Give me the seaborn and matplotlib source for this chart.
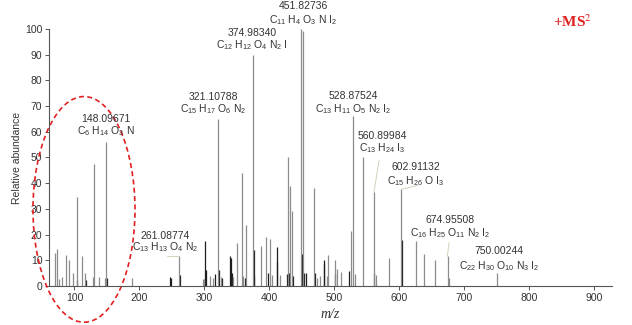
"""MS2 fragment spectrum with annotated peaks."""

import matplotlib.pyplot as plt
import numpy as np
import pandas as pd
import seaborn as sns
from matplotlib.patches import Ellipse

# -- peak list (m/z, relative abundance) ---------------------------------
gray_mz = [70.2, 73.7, 76.8, 80.9, 86.6, 92.2, 97.3, 104.5, 111.7, 116.8,
           128.1, 130.7, 138.4, 146.6, 148.1, 188.1, 261.1, 298.4, 299.5,
           308.5, 313.6, 321.1, 325.0, 344.0, 350.6, 357.3, 360.0, 364.0,
           375.0, 387.5, 394.8, 400.9, 404.0, 416.0, 428.8, 432.5, 435.3,
           448.9, 451.8, 468.3, 474.0, 478.0, 488.0, 490.5, 501.7, 503.5,
           510.0, 525.0, 528.9, 532.0, 544.5, 560.9, 564.0, 584.5, 602.9,
           625.0, 638.4, 655.4, 675.0, 676.5, 750.0]
gray_int = [12.7, 14.4, 2.7, 3.4, 12.0, 10.0, 5.2, 34.8, 11.5, 4.9,
            3.6, 47.4, 3.4, 3.0, 56.0, 3.0, 11.7, 2.7, 2.7,
            3.9, 3.3, 65.0, 3.5, 3.5, 16.8, 44.0, 3.8, 23.9,
            90.0, 15.6, 19.0, 18.2, 4.3, 4.3, 50.0, 39.0, 29.0,
            100.0, 99.0, 38.0, 3.0, 4.0, 4.0, 12.0, 10.0, 6.5,
            5.5, 21.3, 66.0, 4.5, 50.0, 36.4, 4.3, 11.0, 37.6,
            17.4, 12.5, 10.2, 11.5, 3.0, 5.2]

black_mz = [103.5, 117.8, 149.6, 247.0, 248.0, 262.0, 301.5, 303.0, 316.7,
            322.0, 327.5, 339.4, 340.4, 342.5, 362.0, 375.8, 377.0, 398.5,
            411.2, 412.3, 427.5, 430.0, 436.5, 449.8, 453.5, 456.0, 471.0,
            483.5, 484.5, 500.5, 523.0, 561.5, 603.5]
black_int = [2.3, 2.3, 3.0, 3.6, 3.2, 4.3, 17.6, 6.3, 4.7,
             6.3, 3.0, 11.5, 10.8, 5.0, 3.3, 14.0, 4.0, 5.0,
             15.0, 9.5, 4.5, 5.0, 4.0, 12.5, 5.0, 5.0, 5.0,
             10.0, 8.6, 4.6, 6.0, 5.0, 18.0]

# -- annotations: (x, y of mass line, y of formula line, mass, formula) ----
ann_x = [451.6, 373.2, 313.2, 148.6, 528.6, 573.2, 625.5, 677.8, 753.2, 239.3]
ann_mass_y = [109.0, 98.4, 73.7, 65.0, 74.0, 58.5, 46.3, 25.5, 13.5, 19.6]
ann_form_y = [103.5, 93.7, 69.0, 60.4, 69.0, 53.7, 40.9, 20.4, 7.8, 15.0]
ann_mass = ["451.82736", "374.98340", "321.10788", "148.09671", "528.87524",
            "560.89984", "602.91132", "674.95508", "750.00244", "261.08774"]
ann_formula = [
    r"C$_{11}$ H$_{4}$ O$_{3}$ N I$_{2}$",
    r"C$_{12}$ H$_{12}$ O$_{4}$ N$_{2}$ I",
    r"C$_{15}$ H$_{17}$ O$_{6}$ N$_{2}$",
    r"C$_{6}$ H$_{14}$ O$_{3}$ N",
    r"C$_{13}$ H$_{11}$ O$_{5}$ N$_{2}$ I$_{2}$",
    r"C$_{13}$ H$_{24}$ I$_{3}$",
    r"C$_{15}$ H$_{26}$ O I$_{3}$",
    r"C$_{16}$ H$_{25}$ O$_{11}$ N$_{2}$ I$_{2}$",
    r"C$_{22}$ H$_{30}$ O$_{10}$ N$_{3}$ I$_{2}$",
    r"C$_{13}$ H$_{13}$ O$_{4}$ N$_{2}$",
]

# leader lines (label -> peak)
lead_x0 = [569.0, 629.0, 676.7, 242.4]
lead_y0 = [49.0, 39.2, 16.9, 11.8]
lead_x1 = [560.9, 602.9, 673.8, 259.6]
lead_y1 = [36.4, 37.6, 11.5, 11.8]

sns.set_theme(style="ticks")
plt.rcParams["font.family"] = ["Liberation Sans", "DejaVu Sans"]
plt.rcParams["mathtext.fontset"] = "custom"
plt.rcParams["mathtext.rm"] = "Liberation Sans"
plt.rcParams["mathtext.it"] = "Liberation Sans:italic"

peaks = pd.concat([
    pd.DataFrame({"mz": gray_mz, "int": gray_int, "kind": "gray"}),
    pd.DataFrame({"mz": black_mz, "int": black_int, "kind": "black"}),
])
colors = {"gray": "#8c8c8c", "black": "#1e1e1e"}

fig = plt.figure(figsize=(6.32, 3.25), dpi=100)
ax = fig.add_axes([0.078, 0.12, 0.89, 0.791])

for kind, sub in peaks.groupby("kind"):
    ax.vlines(sub["mz"], 0, sub["int"], color=colors[kind], linewidth=0.9)

ax.set_xlim(61.3, 927)
ax.set_ylim(0, 100)
ax.set_xticks(np.arange(100, 901, 100))
ax.set_yticks(np.arange(0, 101, 10))
ax.tick_params(labelsize=7.5, length=3, width=0.7, color="#555555",
               labelcolor="#333333", pad=2)
sns.despine(ax=ax)
for side in ("left", "bottom"):
    ax.spines[side].set_color("#555555")
    ax.spines[side].set_linewidth(0.8)

ax.set_ylabel("Relative abundance", fontsize=7.5, color="#333333", labelpad=2)
ax.set_xlabel("m/z", fontsize=10, family="Liberation Serif", style="italic",
              color="#333333", labelpad=4)

for x, my, fy, m, f in zip(ann_x, ann_mass_y, ann_form_y, ann_mass, ann_formula):
    ax.text(x, my, m, ha="center", va="center", fontsize=7.5,
            color="#333333", clip_on=False)
    ax.text(x, fy, f, ha="center", va="center", fontsize=7.5,
            color="#333333", clip_on=False)

for x0, y0, x1, y1 in zip(lead_x0, lead_y0, lead_x1, lead_y1):
    ax.plot([x0, x1], [y0, y1], color="#c2cfae", linewidth=0.6)

ax.add_patch(Ellipse((114.7, 29.8), 157, 87.8, fill=False,
                     edgecolor="#e02020", linestyle=(0, (3, 2)),
                     linewidth=1.2, clip_on=False))

fig.text(0.905, 0.932, r"+MS$^{2}$", color="#e02020", fontsize=11,
         fontweight="bold", family="Liberation Serif", ha="center", va="center",
         math_fontfamily="stix")

fig.savefig("out.png", dpi=100)
